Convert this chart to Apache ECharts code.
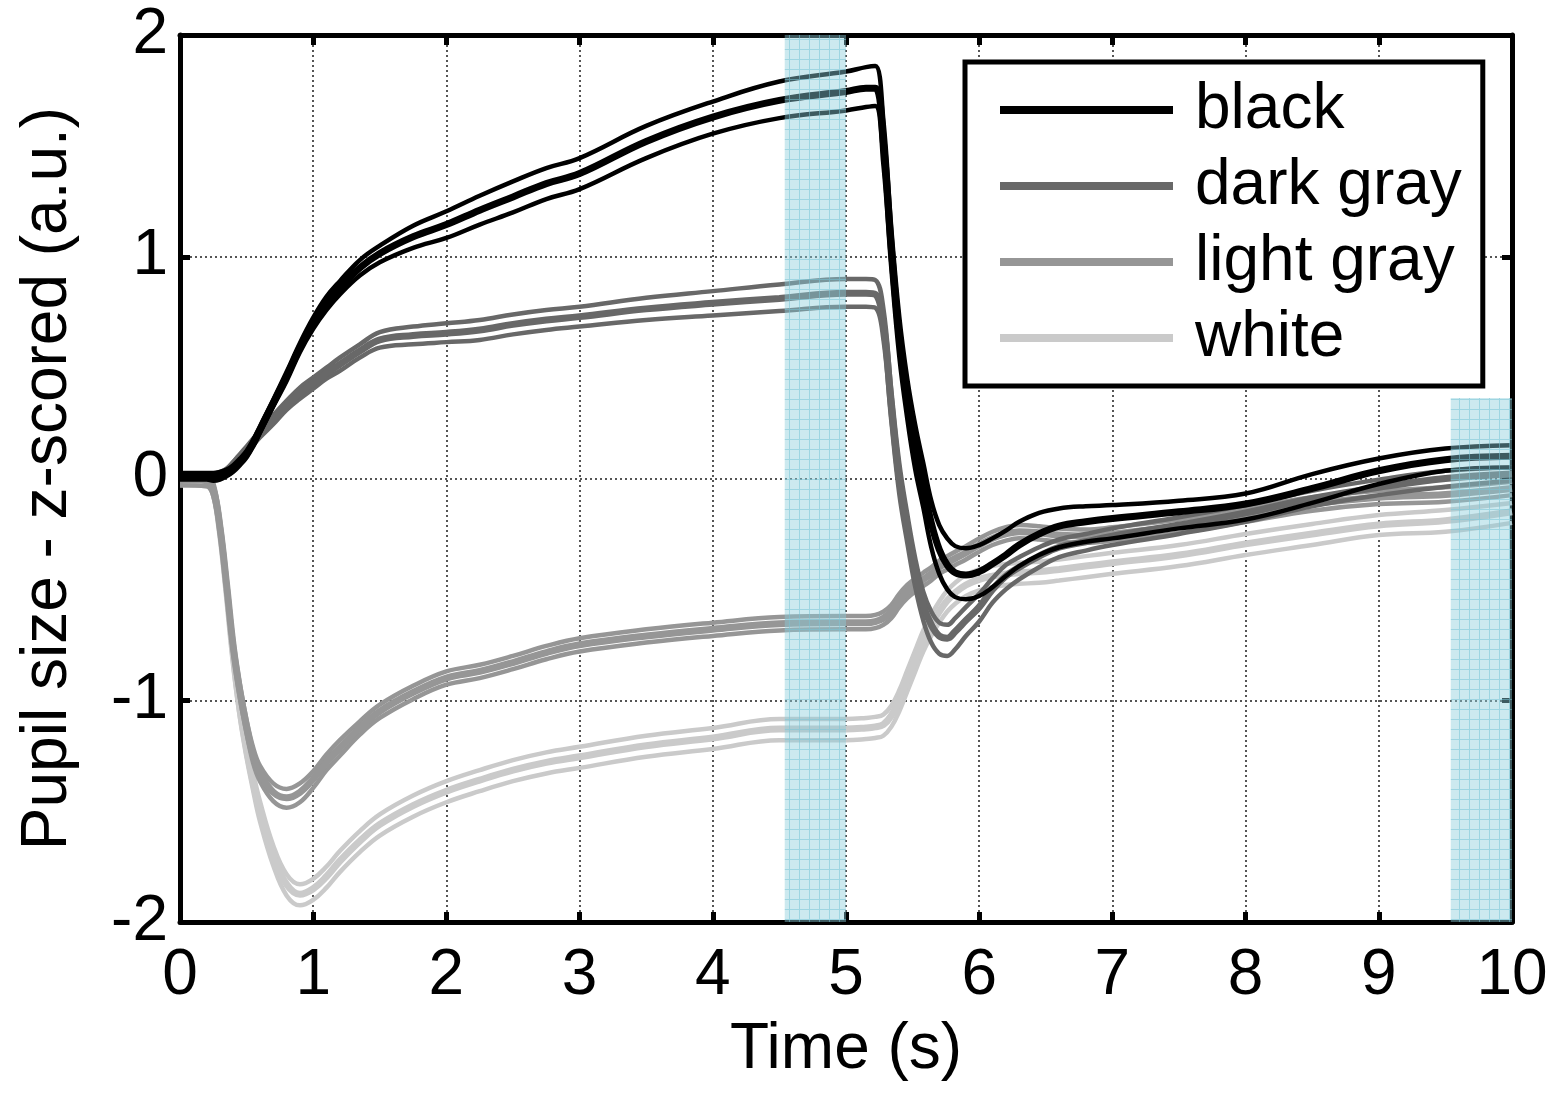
<!DOCTYPE html>
<html>
<head>
<meta charset="utf-8">
<title>Pupil size time course</title>
<script src="https://cdn.jsdelivr.net/npm/echarts@6/dist/echarts.min.js"></script>
<style>
  html, body { margin: 0; padding: 0; background: #ffffff; }
  #chart { width: 1551px; height: 1093px; }
</style>
</head>
<body>
<div id="chart"></div>
<script>
// Sample times (s)
const timeSec = [0, 0.2, 0.25, 0.3, 0.35, 0.4, 0.45, 0.5, 0.55, 0.6,
  0.7, 0.8, 0.9, 1.0, 1.1, 1.2, 1.35, 1.5, 1.75, 2.0,
  2.25, 2.5, 2.75, 3.0, 3.5, 4.0, 4.5, 5.0, 5.15, 5.22,
  5.28, 5.34, 5.4, 5.46, 5.52, 5.58, 5.64, 5.7, 5.76, 5.82,
  5.9, 6.0, 6.1, 6.2, 6.3, 6.45, 6.6, 6.8, 7.0, 7.5,
  8.0, 8.5, 9.0, 9.5, 10];

// Condition names
const conditions = ['black', 'dark gray', 'light gray', 'white'];

// black: mean and SEM bounds
const blackMean = [0.01, 0.01, 0.01, 0.015, 0.025, 0.045, 0.075, 0.11, 0.16, 0.22,
  0.34, 0.46, 0.59, 0.70, 0.79, 0.86, 0.95, 1.015, 1.09, 1.145,
  1.21, 1.27, 1.33, 1.375, 1.52, 1.63, 1.705, 1.745, 1.76, 1.76,
  1.52, 1.04, 0.64, 0.36, 0.14, -0.03, -0.2, -0.32, -0.39, -0.425,
  -0.435, -0.42, -0.385, -0.345, -0.3, -0.25, -0.215, -0.195, -0.18, -0.15,
  -0.115, -0.045, 0.035, 0.085, 0.1];
const blackUpper = [0.025, 0.025, 0.025, 0.03, 0.04, 0.06, 0.09, 0.125, 0.175, 0.235,
  0.355, 0.48, 0.61, 0.725, 0.82, 0.89, 0.985, 1.05, 1.14, 1.205,
  1.275, 1.34, 1.40, 1.445, 1.59, 1.70, 1.79, 1.835, 1.855, 1.86,
  1.62, 1.13, 0.73, 0.45, 0.24, 0.07, -0.1, -0.21, -0.27, -0.305,
  -0.315, -0.3, -0.27, -0.235, -0.195, -0.155, -0.135, -0.125, -0.12, -0.1,
  -0.068, 0.02, 0.09, 0.135, 0.15];
const blackLower = [-0.005, -0.005, -0.01, -0.005, 0.01, 0.03, 0.06, 0.095, 0.145, 0.205,
  0.325, 0.44, 0.57, 0.675, 0.76, 0.83, 0.915, 0.975, 1.04, 1.085,
  1.145, 1.20, 1.26, 1.305, 1.445, 1.555, 1.625, 1.66, 1.675, 1.68,
  1.42, 0.95, 0.55, 0.27, 0.04, -0.13, -0.31, -0.43, -0.5, -0.535,
  -0.545, -0.53, -0.49, -0.44, -0.395, -0.345, -0.31, -0.285, -0.27, -0.225,
  -0.185, -0.11, -0.025, 0.035, 0.05];

// dark gray
const darkMean = [0.01, 0.01, 0.012, 0.02, 0.035, 0.065, 0.1, 0.13, 0.165, 0.2,
  0.265, 0.33, 0.385, 0.43, 0.475, 0.515, 0.575, 0.625, 0.645, 0.655,
  0.67, 0.695, 0.715, 0.73, 0.765, 0.79, 0.812, 0.835, 0.835, 0.83,
  0.70, 0.33, 0.0, -0.22, -0.42, -0.57, -0.66, -0.71, -0.72, -0.69,
  -0.64, -0.58, -0.5, -0.44, -0.4, -0.35, -0.31, -0.285, -0.26, -0.21,
  -0.155, -0.09, -0.04, 0.0, 0.02];
const darkUpper = [0.02, 0.02, 0.022, 0.03, 0.045, 0.075, 0.11, 0.145, 0.18, 0.215,
  0.285, 0.35, 0.41, 0.455, 0.5, 0.545, 0.605, 0.66, 0.685, 0.7,
  0.715, 0.74, 0.76, 0.775, 0.815, 0.845, 0.875, 0.9, 0.9, 0.895,
  0.77, 0.40, 0.07, -0.16, -0.36, -0.51, -0.60, -0.65, -0.66, -0.63,
  -0.58, -0.52, -0.45, -0.39, -0.355, -0.31, -0.275, -0.25, -0.225, -0.175,
  -0.12, -0.055, -0.005, 0.035, 0.05];
const darkLower = [0.0, 0.0, 0.002, 0.01, 0.025, 0.055, 0.09, 0.115, 0.15, 0.185,
  0.245, 0.31, 0.36, 0.405, 0.45, 0.485, 0.545, 0.59, 0.605, 0.615,
  0.625, 0.65, 0.67, 0.685, 0.715, 0.735, 0.755, 0.775, 0.775, 0.77,
  0.63, 0.26, -0.07, -0.29, -0.49, -0.64, -0.74, -0.79, -0.80, -0.77,
  -0.71, -0.645, -0.56, -0.5, -0.455, -0.4, -0.355, -0.325, -0.3, -0.25,
  -0.195, -0.125, -0.075, -0.037, -0.01];

// light gray
const lightMean = [-0.005, -0.01, -0.05, -0.22, -0.48, -0.76, -0.96, -1.12, -1.25, -1.33,
  -1.415, -1.44, -1.415, -1.355, -1.28, -1.215, -1.125, -1.05, -0.965, -0.9,
  -0.87, -0.83, -0.785, -0.75, -0.71, -0.68, -0.655, -0.65, -0.65, -0.645,
  -0.63, -0.6, -0.55, -0.51, -0.48, -0.455, -0.43, -0.4, -0.38, -0.36,
  -0.335, -0.3, -0.27, -0.25, -0.24, -0.245, -0.255, -0.26, -0.25, -0.215,
  -0.165, -0.115, -0.085, -0.072, -0.045];
const lightUpper = [0.02, 0.015, -0.02, -0.19, -0.45, -0.73, -0.93, -1.09, -1.215, -1.295,
  -1.375, -1.4, -1.375, -1.32, -1.245, -1.18, -1.095, -1.02, -0.935, -0.87,
  -0.84, -0.8, -0.755, -0.72, -0.68, -0.65, -0.625, -0.62, -0.62, -0.615,
  -0.6, -0.57, -0.52, -0.48, -0.45, -0.425, -0.4, -0.37, -0.35, -0.33,
  -0.305, -0.27, -0.24, -0.22, -0.21, -0.215, -0.225, -0.23, -0.22, -0.185,
  -0.135, -0.085, -0.055, -0.04, -0.015];
const lightLower = [-0.03, -0.035, -0.08, -0.25, -0.51, -0.79, -0.99, -1.15, -1.285, -1.365,
  -1.455, -1.485, -1.46, -1.395, -1.315, -1.25, -1.155, -1.08, -0.995, -0.93,
  -0.9, -0.86, -0.815, -0.78, -0.74, -0.71, -0.685, -0.68, -0.68, -0.675,
  -0.66, -0.63, -0.58, -0.54, -0.51, -0.485, -0.46, -0.43, -0.41, -0.39,
  -0.365, -0.33, -0.3, -0.28, -0.27, -0.275, -0.285, -0.29, -0.28, -0.245,
  -0.195, -0.145, -0.115, -0.105, -0.075];

// white
const whiteMean = [-0.01, -0.015, -0.055, -0.23, -0.5, -0.8, -1.04, -1.22, -1.37, -1.5,
  -1.7, -1.83, -1.875, -1.85, -1.795, -1.725, -1.635, -1.56, -1.475, -1.41,
  -1.36, -1.315, -1.28, -1.255, -1.205, -1.17, -1.13, -1.13, -1.125, -1.12,
  -1.11, -1.07, -1.0, -0.91, -0.82, -0.73, -0.66, -0.6, -0.55, -0.515,
  -0.48, -0.455, -0.44, -0.43, -0.425, -0.42, -0.41, -0.395, -0.38, -0.345,
  -0.295, -0.25, -0.21, -0.19, -0.15];
const whiteUpper = [0.01, 0.005, -0.03, -0.2, -0.46, -0.76, -1.0, -1.18, -1.33, -1.455,
  -1.655, -1.785, -1.83, -1.805, -1.75, -1.68, -1.59, -1.515, -1.43, -1.365,
  -1.315, -1.27, -1.235, -1.21, -1.16, -1.125, -1.085, -1.085, -1.08, -1.075,
  -1.065, -1.025, -0.955, -0.865, -0.775, -0.685, -0.615, -0.555, -0.505, -0.47,
  -0.435, -0.41, -0.395, -0.385, -0.38, -0.375, -0.365, -0.35, -0.335, -0.3,
  -0.25, -0.205, -0.165, -0.142, -0.11];
const whiteLower = [-0.03, -0.035, -0.08, -0.26, -0.54, -0.84, -1.08, -1.26, -1.41, -1.545,
  -1.745, -1.88, -1.925, -1.9, -1.845, -1.775, -1.685, -1.61, -1.525, -1.46,
  -1.41, -1.365, -1.33, -1.305, -1.255, -1.22, -1.18, -1.18, -1.175, -1.17,
  -1.16, -1.12, -1.05, -0.96, -0.87, -0.78, -0.71, -0.65, -0.6, -0.565,
  -0.53, -0.505, -0.49, -0.48, -0.475, -0.47, -0.46, -0.445, -0.43, -0.395,
  -0.345, -0.3, -0.255, -0.24, -0.2];

// Analysis windows: [t start, t end, y bottom, y top]
const shadeWindows = [
  [4.54, 5.0, -2, 2],
  [9.54, 10.0, -2, 0.363]
];

// Axis ticks
const xTicks = [0, 1, 2, 3, 4, 5, 6, 7, 8, 9, 10];
const yTicks = [-2, -1, 0, 1, 2];

const lineColors = ['#000000', '#686868', '#969696', '#cacaca'];
const FONT = '"Liberation Sans", Arial, Helvetica, sans-serif';

const groups = [
  [blackMean, blackUpper, blackLower],
  [darkMean, darkUpper, darkLower],
  [lightMean, lightUpper, lightLower],
  [whiteMean, whiteUpper, whiteLower]
];

function pairs(values) {
  return timeSec.map((t, i) => [t, values[i]]);
}

// Hatched translucent fill for the analysis windows
function makeShadePattern() {
  const c = document.createElement('canvas');
  c.width = 10; c.height = 10;
  const g = c.getContext('2d');
  g.fillStyle = 'rgba(139,205,218,0.44)';
  g.fillRect(0, 0, 10, 10);
  g.fillStyle = 'rgba(120,196,214,0.55)';
  g.fillRect(9, 0, 1, 10);
  g.fillRect(0, 9, 9, 1);
  return c;
}
const shadeCanvas = makeShadePattern();

const series = [];
// draw lightest condition first so darker traces sit on top
for (let k = groups.length - 1; k >= 0; k--) {
  const [m, u, l] = groups[k];
  const common = {
    type: 'line',
    showSymbol: false,
    smooth: 0.4,
    silent: true,
    animation: false,
    color: lineColors[k],
    z: 3 + (groups.length - k)
  };
  series.push(Object.assign({}, common, {
    name: conditions[k] + ' upper',
    data: pairs(u),
    lineStyle: { color: lineColors[k], width: 4.5 }
  }));
  series.push(Object.assign({}, common, {
    name: conditions[k] + ' lower',
    data: pairs(l),
    lineStyle: { color: lineColors[k], width: 4.5 }
  }));
  series.push(Object.assign({}, common, {
    name: conditions[k],
    data: pairs(m),
    lineStyle: { color: lineColors[k], width: 7 },
    itemStyle: { color: lineColors[k] }
  }));
}

series.push({
  type: 'custom',
  name: 'windows',
  silent: true,
  animation: false,
  z: 20,
  encode: { x: [0, 1], y: [2, 3] },
  data: shadeWindows,
  renderItem: function (params, api) {
    const p0 = api.coord([api.value(0), api.value(3)]);
    const p1 = api.coord([api.value(1), api.value(2)]);
    return {
      type: 'rect',
      shape: { x: p0[0], y: p0[1], width: p1[0] - p0[0], height: p1[1] - p0[1] },
      style: { fill: { image: shadeCanvas, repeat: 'repeat' } }
    };
  }
});

function frameAxis(extra) {
  return Object.assign({
    type: 'value',
    axisLine: { show: true, onZero: false, lineStyle: { color: '#000', width: 5 } },
    axisTick: { show: true, inside: true, length: 10, lineStyle: { color: '#000', width: 5 } }
  }, extra);
}

const gridLine = { show: true, lineStyle: { color: '#555', width: 2, type: [2, 3] } };

const option = {
  backgroundColor: '#ffffff',
  animation: false,
  grid: { left: 180, right: 39, top: 35, bottom: 171, containLabel: false },
  legend: {
    data: conditions,
    orient: 'vertical',
    left: 965,
    top: 62,
    padding: [16, 21, 16, 35],
    itemGap: 12,
    itemWidth: 173,
    itemHeight: 8,
    icon: 'rect',
    selectedMode: false,
    backgroundColor: '#ffffff',
    borderColor: '#000000',
    borderWidth: 5,
    textStyle: {
      fontFamily: FONT, fontSize: 64, color: '#000', lineHeight: 64,
      padding: [0, 0, 0, 17]
    },
    z: 30
  },
  xAxis: [
    frameAxis({
      min: 0, max: 10, interval: 1, position: 'bottom',
      name: 'Time (s)', nameLocation: 'middle', nameGap: 96,
      nameTextStyle: { fontFamily: FONT, fontSize: 64, color: '#000' },
      axisLabel: { fontFamily: FONT, fontSize: 64, color: '#000', margin: 22,
        formatter: v => (xTicks.indexOf(v) >= 0 ? String(v) : '') },
      splitLine: gridLine
    }),
    frameAxis({
      min: 0, max: 10, interval: 1, position: 'top',
      axisLabel: { show: false }, splitLine: { show: false }
    })
  ],
  yAxis: [
    frameAxis({
      min: -2, max: 2, interval: 1, position: 'left',
      name: 'Pupil size - z-scored (a.u.)', nameLocation: 'middle', nameGap: 100,
      nameTextStyle: { fontFamily: FONT, fontSize: 64, color: '#000' },
      axisLabel: { fontFamily: FONT, fontSize: 64, color: '#000', margin: 12,
        formatter: v => (yTicks.indexOf(v) >= 0 ? String(v) : '') },
      splitLine: gridLine
    }),
    frameAxis({
      min: -2, max: 2, interval: 1, position: 'right',
      axisLabel: { show: false }, splitLine: { show: false }
    })
  ],
  series: series
};

const chart = echarts.init(document.getElementById('chart'), null, { renderer: 'canvas' });
chart.setOption(option);
</script>
</body>
</html>
